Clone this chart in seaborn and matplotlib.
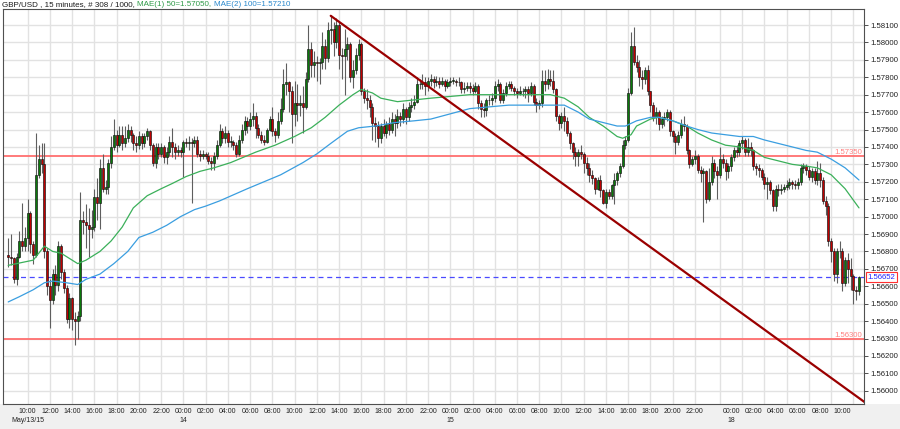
import numpy as np
import pandas as pd
import matplotlib
matplotlib.use("Agg")
import matplotlib.pyplot as plt
from matplotlib.patches import Rectangle
import seaborn as sns

sns.set_style("white")
plt.rcParams["font.family"] = ["Liberation Sans", "DejaVu Sans"]

# ---------------- data (15-minute GBP/USD bars) ----------------
first_open = 1.5678
close = [
1.5677,1.5676,1.5664,1.5677,1.5686,1.5683,1.5688,1.5702,1.5684,1.5678,
1.5724,1.5733,1.5730,1.5680,1.5660,1.5652,1.5667,1.5661,1.5683,1.5668,
1.5659,1.5641,1.5653,1.5641,1.5640,1.5643,1.5698,1.5697,1.5695,1.5693,
1.5694,1.5711,1.5708,1.5728,1.5716,1.5717,1.5731,1.5740,1.5747,1.5741,
1.5747,1.5742,1.5745,1.5750,1.5747,1.5742,1.5741,1.5746,1.5742,1.5746,
1.5749,1.5741,1.5731,1.5740,1.5736,1.5740,1.5734,1.5737,1.5743,1.5740,
1.5737,1.5738,1.5737,1.5743,1.5742,1.5743,1.5742,1.5744,1.5736,1.5735,
1.5736,1.5735,1.5732,1.5731,1.5735,1.5741,1.5749,1.5745,1.5748,1.5743,
1.5743,1.5741,1.5736,1.5744,1.5750,1.5755,1.5752,1.5756,1.5758,1.5751,
1.5747,1.5744,1.5743,1.5750,1.5756,1.5749,1.5747,1.5755,1.5762,1.5776,
1.5777,1.5772,1.5759,1.5765,1.5764,1.5765,1.5763,1.5779,1.5796,1.5787,
1.5789,1.5788,1.5789,1.5798,1.5791,1.5807,1.5808,1.5800,1.5810,1.5793,
1.5792,1.5796,1.5799,1.5780,1.5784,1.5793,1.5799,1.5772,1.5768,1.5767,
1.5763,1.5754,1.5752,1.5745,1.5752,1.5748,1.5753,1.5750,1.5756,1.5754,
1.5758,1.5756,1.5762,1.5757,1.5763,1.5764,1.5766,1.5776,1.5776,1.5777,
1.5775,1.5778,1.5779,1.5777,1.5778,1.5776,1.5778,1.5775,1.5777,1.5778,
1.5778,1.5777,1.5777,1.5773,1.5774,1.5775,1.5774,1.5772,1.5775,1.5765,
1.5762,1.5761,1.5767,1.5767,1.5768,1.5775,1.5776,1.5767,1.5771,1.5775,
1.5776,1.5774,1.5772,1.5771,1.5772,1.5772,1.5773,1.5771,1.5775,1.5766,
1.5764,1.5765,1.5778,1.5776,1.5779,1.5778,1.5773,1.5758,1.5754,1.5758,
1.5755,1.5748,1.5742,1.5737,1.5735,1.5737,1.5736,1.5731,1.5728,1.5724,
1.5722,1.5716,1.5721,1.5715,1.5708,1.5714,1.5712,1.5718,1.5721,1.5725,
1.5729,1.5741,1.5744,1.5771,1.5798,1.5789,1.5786,1.5780,1.5779,1.5784,
1.5772,1.5764,1.5757,1.5760,1.5753,1.5756,1.5757,1.5760,1.5749,1.5746,
1.5743,1.5747,1.5753,1.5752,1.5738,1.5730,1.5733,1.5735,1.5727,1.5725,
1.5726,1.5710,1.5720,1.5731,1.5726,1.5724,1.5733,1.5731,1.5726,1.5729,
1.5734,1.5738,1.5737,1.5742,1.5744,1.5737,1.5740,1.5738,1.5729,1.5728,
1.5727,1.5723,1.5719,1.5720,1.5715,1.5706,1.5716,1.5715,1.5716,1.5717,
1.5718,1.5720,1.5719,1.5718,1.5720,1.5728,1.5729,1.5727,1.5723,1.5726,
1.5721,1.5725,1.5721,1.5709,1.5706,1.5686,1.5680,1.5667,1.5680,1.5680,
1.5662,1.5675,1.5670,1.5666,1.5658,1.5657,1.56652]
high = [
1.5688,1.5690,1.5677,1.5679,1.5692,1.5708,1.5694,1.5710,1.5703,1.5686,
1.5748,1.5741,1.5742,1.5742,1.5682,1.5664,1.5670,1.5672,1.5686,1.5684,
1.5670,1.5661,1.5656,1.5654,1.5645,1.5646,1.5714,1.5703,1.5707,1.5705,
1.5704,1.5716,1.5722,1.5733,1.5736,1.5721,1.5733,1.5746,1.5756,1.5750,
1.5752,1.5752,1.5752,1.5753,1.5752,1.5748,1.5746,1.5749,1.5748,1.5748,
1.5751,1.5750,1.5742,1.5742,1.5742,1.5742,1.5741,1.5740,1.5746,1.5751,
1.5742,1.5741,1.5740,1.5744,1.5745,1.5746,1.5745,1.5746,1.5746,1.5738,
1.5738,1.5737,1.5737,1.5734,1.5737,1.5744,1.5753,1.5751,1.5752,1.5750,
1.5746,1.5744,1.5743,1.5747,1.5753,1.5758,1.5757,1.5760,1.5765,1.5760,
1.5753,1.5749,1.5747,1.5751,1.5758,1.5763,1.5751,1.5760,1.5768,1.5785,
1.5788,1.5778,1.5775,1.5778,1.5776,1.5770,1.5775,1.5783,1.5810,1.5800,
1.5795,1.5792,1.5791,1.5806,1.5802,1.5812,1.5816,1.5812,1.5814,1.5812,
1.5797,1.5808,1.5803,1.5800,1.5790,1.5797,1.5802,1.5800,1.5774,1.5773,
1.5770,1.5765,1.5757,1.5755,1.5754,1.5756,1.5755,1.5757,1.5760,1.5759,
1.5762,1.5760,1.5765,1.5763,1.5766,1.5768,1.5770,1.5780,1.5779,1.5782,
1.5780,1.5780,1.5782,1.5781,1.5781,1.5780,1.5780,1.5779,1.5779,1.5780,
1.5780,1.5779,1.5780,1.5778,1.5777,1.5777,1.5777,1.5776,1.5777,1.5776,
1.5767,1.5765,1.5768,1.5770,1.5771,1.5778,1.5779,1.5777,1.5773,1.5777,
1.5778,1.5778,1.5775,1.5774,1.5775,1.5774,1.5775,1.5775,1.5777,1.5776,
1.5768,1.5767,1.5784,1.5784,1.5785,1.5784,1.5784,1.5774,1.5759,1.5760,
1.5763,1.5757,1.5749,1.5743,1.5740,1.5739,1.5741,1.5737,1.5734,1.5731,
1.5727,1.5723,1.5723,1.5724,1.5716,1.5716,1.5716,1.5719,1.5725,1.5726,
1.5731,1.5744,1.5746,1.5774,1.5806,1.5809,1.5793,1.5790,1.5784,1.5786,
1.5787,1.5771,1.5766,1.5763,1.5761,1.5758,1.5760,1.5762,1.5761,1.5750,
1.5748,1.5749,1.5756,1.5758,1.5753,1.5739,1.5735,1.5738,1.5736,1.5729,
1.5728,1.5727,1.5728,1.5735,1.5733,1.5729,1.5740,1.5736,1.5733,1.5731,
1.5736,1.5740,1.5741,1.5744,1.5746,1.5745,1.5745,1.5743,1.5739,1.5731,
1.5730,1.5728,1.5725,1.5723,1.5721,1.5716,1.5718,1.5719,1.5719,1.5719,
1.5721,1.5722,1.5721,1.5721,1.5722,1.5730,1.5731,1.5730,1.5729,1.5728,
1.5728,1.5732,1.5731,1.5723,1.5712,1.5708,1.5688,1.5682,1.5682,1.5686,
1.5682,1.5677,1.5679,1.5676,1.5667,1.5660,1.5666]
low = [
1.5671,1.5672,1.5662,1.5661,1.5676,1.5680,1.5680,1.5680,1.5679,1.5673,
1.5677,1.5722,1.5725,1.5676,1.5655,1.5636,1.5650,1.5655,1.5657,1.5664,
1.5656,1.5639,1.5636,1.5635,1.5626,1.5630,1.5640,1.5690,1.5682,1.5677,
1.5688,1.5692,1.5698,1.5693,1.5714,1.5713,1.5713,1.5728,1.5738,1.5737,
1.5740,1.5738,1.5740,1.5743,1.5743,1.5738,1.5737,1.5739,1.5739,1.5740,
1.5744,1.5738,1.5729,1.5728,1.5733,1.5734,1.5731,1.5730,1.5735,1.5734,
1.5733,1.5735,1.5734,1.5723,1.5740,1.5738,1.5708,1.5740,1.5734,1.5732,
1.5733,1.5733,1.5730,1.5727,1.5727,1.5733,1.5740,1.5742,1.5742,1.5740,
1.5740,1.5738,1.5734,1.5735,1.5742,1.5747,1.5748,1.5750,1.5752,1.5745,
1.5745,1.5742,1.5741,1.5742,1.5749,1.5746,1.5743,1.5745,1.5753,1.5760,
1.5770,1.5760,1.5742,1.5752,1.5755,1.5758,1.5748,1.5762,1.5777,1.5780,
1.5780,1.5778,1.5776,1.5785,1.5785,1.5789,1.5799,1.5792,1.5797,1.5785,
1.5779,1.5770,1.5790,1.5777,1.5774,1.5782,1.5790,1.5770,1.5765,1.5762,
1.5757,1.5744,1.5743,1.5740,1.5742,1.5746,1.5745,1.5747,1.5748,1.5746,
1.5751,1.5752,1.5754,1.5753,1.5755,1.5760,1.5762,1.5765,1.5773,1.5773,
1.5770,1.5772,1.5775,1.5774,1.5775,1.5774,1.5775,1.5772,1.5774,1.5775,
1.5776,1.5775,1.5775,1.5771,1.5771,1.5772,1.5771,1.5770,1.5771,1.5762,
1.5757,1.5757,1.5758,1.5764,1.5764,1.5766,1.5772,1.5765,1.5765,1.5769,
1.5773,1.5772,1.5770,1.5768,1.5770,1.5769,1.5768,1.5766,1.5769,1.5764,
1.5760,1.5762,1.5763,1.5772,1.5773,1.5775,1.5771,1.5755,1.5750,1.5751,
1.5749,1.5746,1.5739,1.5733,1.5729,1.5729,1.5733,1.5725,1.5724,1.5720,
1.5719,1.5713,1.5715,1.5711,1.5707,1.5705,1.5710,1.5710,1.5707,1.5718,
1.5723,1.5728,1.5739,1.5743,1.5770,1.5787,1.5783,1.5775,1.5773,1.5776,
1.5770,1.5760,1.5755,1.5753,1.5750,1.5751,1.5752,1.5755,1.5746,1.5743,
1.5736,1.5741,1.5745,1.5749,1.5736,1.5728,1.5729,1.5730,1.5725,1.5720,
1.5697,1.5708,1.5709,1.5718,1.5722,1.5710,1.5722,1.5728,1.5721,1.5722,
1.5726,1.5732,1.5734,1.5735,1.5739,1.5735,1.5735,1.5735,1.5727,1.5724,
1.5723,1.5721,1.5716,1.5710,1.5713,1.5703,1.5703,1.5712,1.5713,1.5714,
1.5715,1.5716,1.5716,1.5716,1.5716,1.5718,1.5725,1.5724,1.5721,1.5720,
1.5719,1.5718,1.5717,1.5707,1.5701,1.5683,1.5674,1.5663,1.5662,1.5676,
1.5657,1.5660,1.5662,1.5658,1.5650,1.5652,1.5655]

# moving averages (bar index, value)
ma50_bar = [0,3,9,13,16,19,21,25,28,33,37,41,45,50,55,59,64,69,74,80,
            89,96,103,109,114,119,124,127,131,134,140,146,152,159,166,173,180,188,195,200,
            205,209,214,219,221,224,226,231,234,239,244,248,253,258,263,268,272,277,282,287,
            291,296,301,306]
ma50_val = [1.5672,1.5673,1.5675,1.5683,1.5680,1.5679,1.5677,1.5673,1.5675,1.5680,
            1.5686,1.5694,1.5705,1.5712,1.5716,1.5719,1.5723,1.5726,1.5728,1.5731,
            1.5737,1.5741,1.5746,1.5751,1.5757,1.5764,1.5770,1.5773,1.5771,1.5768,
            1.5766,1.5767,1.5768,1.5769,1.5770,1.5770,1.5770,1.5770,1.5770,1.5768,
            1.5763,1.5757,1.5752,1.5746,1.5745,1.5747,1.5752,1.5756,1.5757,1.5755,
            1.5752,1.5748,1.5744,1.5741,1.5740,1.5738,1.5734,1.5732,1.5730,1.5729,
            1.5728,1.5724,1.5716,1.5705]
ma100_bar = [0,4,9,13,16,21,25,28,33,38,43,47,52,57,62,67,71,76,86,98,
             106,111,116,122,126,132,139,146,152,159,166,173,180,188,195,200,205,209,214,219,
             222,226,231,234,239,244,248,253,258,263,268,272,277,282,287,291,296,301,306]
ma100_val = [1.5651,1.5654,1.5658,1.5662,1.5663,1.5662,1.5661,1.5664,1.5667,1.5673,
             1.5680,1.5688,1.5691,1.5695,1.5700,1.5704,1.5706,1.5709,1.5716,1.5724,
             1.5731,1.5736,1.5742,1.5749,1.5751,1.5752,1.5754,1.5755,1.5756,1.5759,
             1.5762,1.5763,1.5764,1.5764,1.5764,1.5764,1.5760,1.5756,1.5754,1.5752,
             1.5752,1.5755,1.5757,1.5757,1.5755,1.5752,1.5750,1.5748,1.5747,1.5746,
             1.5746,1.5744,1.5742,1.5740,1.5738,1.5737,1.5733,1.5728,1.5721]

level_prices = [1.5735, 1.5630]
level_labels = ["1.57350", "1.56300"]
last_price = 1.56652
last_label = "1.56652"
trend_bars = [116, 308]
trend_prices = [1.58153, 1.55935]

time_bars = [7,15,23,31,39,47,55,63,71,79,87,95,103,111,119,127,135,143,151,
             159,167,175,183,191,199,207,215,223,231,239,247,260,268,276,284,292,300]
time_labels = ["10:00","12:00","14:00","16:00","18:00","20:00","22:00",
               "00:00","02:00","04:00","06:00","08:00","10:00","12:00","14:00","16:00","18:00","20:00","22:00",
               "00:00","02:00","04:00","06:00","08:00","10:00","12:00","14:00","16:00","18:00","20:00","22:00",
               "00:00","02:00","04:00","06:00","08:00","10:00"]
date_bars = [7, 63, 159, 260]
date_labels = ["May/13/15", "14", "15", "18"]
price_ticks = [1.560,1.561,1.562,1.563,1.564,1.565,1.566,1.567,1.568,1.569,1.570,
               1.571,1.572,1.573,1.574,1.575,1.576,1.577,1.578,1.579,1.580,1.581]

title_parts = [("GBP/USD , 15 minutes, # 308 / 1000, ", "#1a1a1a"),
               ("MAE(1) 50=1.57050, ", "#2f9a47"),
               ("MAE(2) 100=1.57210", "#2a88cc")]

# ---------------- build frame ----------------
df = pd.DataFrame({"close": close, "high": high, "low": low})
df["bar"] = np.arange(len(df))
df["open"] = df["close"].shift(1).fillna(first_open)
df["top"] = df[["open", "close", "high"]].max(axis=1)
df["bot"] = df[["open", "close", "low"]].min(axis=1)
up = df["close"] >= df["open"]

# ---------------- figure ----------------
W, H = 900, 429
fig = plt.figure(figsize=(W / 100, H / 100), dpi=100, facecolor="white")
fig.patches.append(Rectangle((0, 0), 1, 25 / H, transform=fig.transFigure,
                             facecolor="#f0f0f0", edgecolor="none", zorder=-5))
ax = fig.add_axes([3 / W, 25 / H, 861 / W, 395 / H])
ax.set_facecolor("white")
ax.set_xlim(-1.87, 307.8)
ax.set_ylim(1.55924, 1.58192)

# grid
grid_bars = list(range(7, 248, 8)) + list(range(256, 306, 8))
for gb in grid_bars:
    ax.axvline(gb, color="#e2e2e2", lw=1.0, zorder=0.5)
for pt in price_ticks:
    ax.axhline(pt, color="#e2e2e2", lw=1.0, zorder=0.5)

# levels
for p in level_prices:
    ax.axhline(p, color="#ff6f6f", lw=1.3, zorder=1)
for p, lab in zip(level_prices, level_labels):
    ax.text(0.998, p, lab, transform=ax.get_yaxis_transform(), ha="right", va="bottom",
            fontsize=5.6, color="#ff8080", zorder=6)
ax.axhline(last_price, color="#4a4aff", lw=0.9, ls=(0, (4, 3)), zorder=1)

# candles
ax.vlines(df["bar"], df["bot"], df["top"], colors="#5e5e5e", linewidth=0.8, zorder=2)
heights = (df["close"] - df["open"]).to_numpy()
heights = np.where(np.abs(heights) < 0.00002, 0.00002, heights)
ax.bar(df["bar"], heights, bottom=df["open"], width=0.72,
       color=np.where(up, "#0a7a0a", "#c00000"), edgecolor="#111111", linewidth=0.45, zorder=3)

# moving averages
sns.lineplot(x=ma50_bar, y=ma50_val, ax=ax, color="#3bb05a", lw=0.9, zorder=4)
sns.lineplot(x=ma100_bar, y=ma100_val, ax=ax, color="#3a9ee0", lw=0.9, zorder=4)

# trend line
sns.lineplot(x=trend_bars, y=trend_prices, ax=ax, color="#9a0000", lw=1.6, zorder=5)

# axes styling
ax.set_xlabel("")
ax.set_ylabel("")
for s in ax.spines.values():
    s.set_color("#505050")
    s.set_linewidth(0.8)
ax.yaxis.tick_right()
ax.set_yticks(price_ticks)
ax.set_yticklabels([f"{p:.5f}" for p in price_ticks])
ax.tick_params(axis="y", direction="out", length=3, width=0.6, color="#333333",
               labelsize=5.6, labelcolor="#222222", pad=1.5)
ax.set_xticks([])

xt = ax.get_xaxis_transform()
for b, lab in zip(time_bars, time_labels):
    ax.text(b, -0.018, lab, transform=xt, ha="center", va="center", fontsize=5.0,
            color="#222222", clip_on=False)
for b, lab in zip(date_bars, date_labels):
    ax.text(b, -0.043, lab, transform=xt, ha="center", va="center", fontsize=5.0,
            color="#222222", clip_on=False)

# current price box
ax.text(1.004, last_price, last_label, transform=ax.get_yaxis_transform(), ha="left",
        va="center", fontsize=5.6, color="#2222ff", zorder=7, clip_on=False,
        bbox=dict(boxstyle="square,pad=0.2", facecolor="white", edgecolor="#ff3030", lw=0.8))

# title pieces
renderer = fig.canvas.get_renderer()
x0 = 2 / W
for txt, col in title_parts:
    t = fig.text(x0, 1 - 4.5 / H, txt, ha="left", va="center", fontsize=5.8, color=col)
    bb = t.get_window_extent(renderer=renderer)
    x0 = bb.x1 / W

fig.savefig("out.png", dpi=100, facecolor=fig.get_facecolor())
